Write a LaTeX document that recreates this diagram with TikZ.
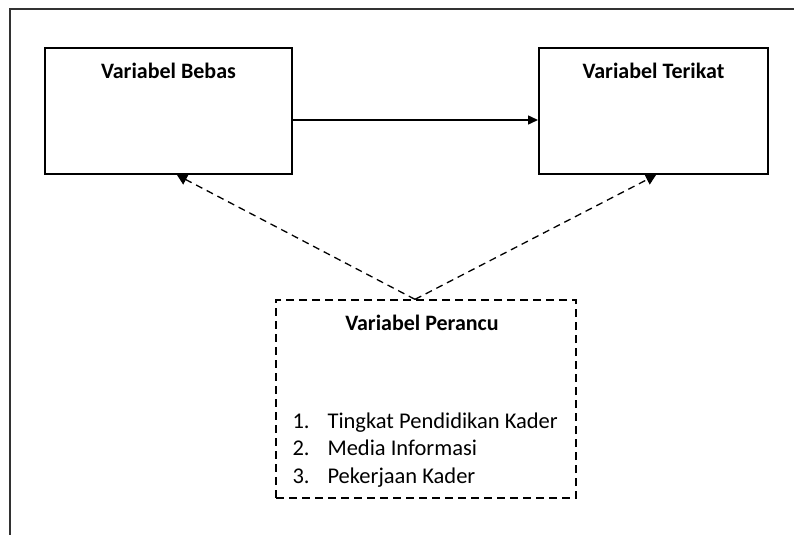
\documentclass[tikz,border=0pt]{standalone}
\usepackage{fontspec}
\setmainfont{Carlito}
\usepackage{xcolor}
\usepackage{tikz}
\usetikzlibrary{positioning,arrows.meta,calc}
\definecolor{ink}{RGB}{0,0,0}
\definecolor{framegray}{RGB}{50,50,50}
\tikzset{
  kotak/.style={draw=ink, fill=white, line width=2pt, minimum width=247pt,
    minimum height=126pt, inner sep=0pt},
  kotakputus/.style={draw=ink, line width=1.3pt, dash pattern=on 8pt off 5pt,
    minimum width=300pt, minimum height=198pt, inner sep=0pt},
  judul/.style={font=\fontsize{22}{27}\selectfont\bfseries, text=ink, inner sep=0pt},
  daftar/.style={font=\fontsize{22.5}{27.5}\selectfont, text=ink, align=left, inner sep=0pt},
  panah/.style={-{Triangle[length=10pt,width=9pt]}, line width=1.5pt, draw=ink},
  panahputus/.style={-{Triangle[length=10pt,width=11pt]}, line width=1.3pt, draw=ink,
    dash pattern=on 7pt off 5pt},
  bingkai/.style={line width=1.5pt, draw=framegray},
}
\begin{document}
\begin{tikzpicture}[x=1pt,y=-1pt]
  \useasboundingbox (0,0) rectangle (794,535);
  % bingkai luar
  \draw[bingkai] (794,9) -- (10,9) -- (10,535);
  % kotak variabel
  \node[kotak] (bebas) at (168.5,111) {};
  \node[kotak, minimum width=229pt] (terikat) at (653.5,111) {};
  \node[kotakputus] (perancu) at (426,399) {};
  \node[judul] (jbebas) at ($(bebas.north)+(0,24)$) {Variabel Bebas};
  \node[judul] (jterikat) at ($(terikat.north)+(0,24)$) {Variabel Terikat};
  \node[judul] (jperancu) at ($(perancu.north)+(-4,24)$) {Variabel Perancu};
  \node[daftar, anchor=north west] (isi) at ($(perancu.north west)+(17,113)$)
    {\makebox[35pt][l]{1.}Tingkat Pendidikan Kader\\
     \makebox[35pt][l]{2.}Media Informasi\\
     \makebox[35pt][l]{3.}Pekerjaan Kader};
  % hubungan
  \coordinate (puncak) at ($(perancu.north)+(-11,0)$);
  \draw[panah] ($(bebas.east)+(0,9)$) -- ($(terikat.west)+(0,9)$);
  \draw[panahputus] (puncak) -- ($(bebas.south)+(8.5,0)$);
  \draw[panahputus] (puncak) -- ($(terikat.south)+(2.5,0)$);
\end{tikzpicture}
\end{document}
